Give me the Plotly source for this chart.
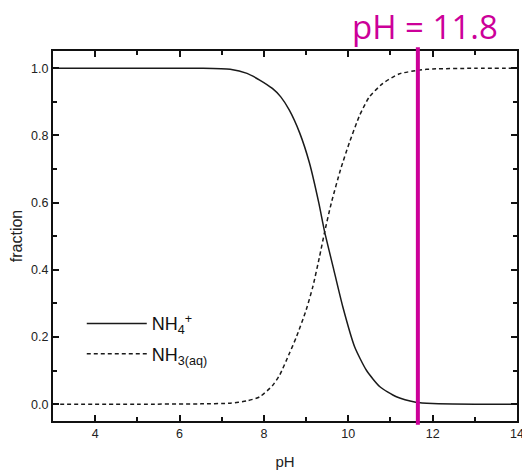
import plotly.graph_objects as go

ph_nh4 = [3, 5, 6.5, 7.2, 7.6, 7.9, 8.2, 8.4, 8.6, 8.85, 9.08, 9.3, 9.44, 9.64, 9.87, 10.15, 10.43, 10.75, 11.14, 11.6, 12, 13, 14]
frac_nh4 = [1.0, 1.0, 1.0, 0.997, 0.985, 0.965, 0.94, 0.915, 0.876, 0.807, 0.718, 0.6, 0.513, 0.409, 0.29, 0.171, 0.101, 0.052, 0.022, 0.006, 0.002, 0.0, 0.0]

ph_nh3 = [3, 5, 6.5, 7.2, 7.6, 7.9, 8.2, 8.37, 8.6, 8.77, 9.0, 9.16, 9.32, 9.44, 9.6, 9.82, 10.03, 10.27, 10.5, 10.82, 11.2, 11.7, 12, 13, 14]
frac_nh3 = [0.0, 0.0, 0.001, 0.003, 0.01, 0.022, 0.055, 0.086, 0.15, 0.2, 0.28, 0.35, 0.44, 0.513, 0.6, 0.7, 0.78, 0.86, 0.915, 0.955, 0.983, 0.995, 0.998, 1.0, 1.0]

marker_ph = 11.65
marker_label = "pH = 11.8"
x_ticks = [4, 6, 8, 10, 12, 14]
y_ticks = [0.0, 0.2, 0.4, 0.6, 0.8, 1.0]

fig = go.Figure()
fig.add_trace(go.Scatter(x=ph_nh4, y=frac_nh4, mode="lines", name="NH<sub>4</sub><sup>+</sup>",
                         legendgroup="a",
                         line=dict(color="#1a1a1a", width=1.5, shape="spline", smoothing=0.6)))
fig.add_trace(go.Scatter(x=ph_nh3, y=frac_nh3, mode="lines", name="NH<sub>3(aq)</sub>",
                         legendgroup="b",
                         line=dict(color="#1a1a1a", width=1.5, dash="4px,3px", shape="spline", smoothing=0.6)))

fig.add_shape(type="line", x0=marker_ph, x1=marker_ph, xref="x", yref="paper", y0=-0.01, y1=1.01,
              line=dict(color="#CC0099", width=4))
fig.add_annotation(x=11.83, xref="x", y=1, yref="paper", yanchor="bottom", yshift=0,
                   text=marker_label, showarrow=False,
                   font=dict(family="Open Sans", size=33, color="#CC0099"))

axis_common = dict(showline=True, linecolor="#111", linewidth=2, mirror="allticks",
                   ticks="inside", ticklen=6, tickwidth=2, tickcolor="#111",
                   showgrid=False, zeroline=False, automargin=False,
                   tickfont=dict(family="Liberation Sans", size=12.5, color="#222"))
fig.update_xaxes(range=[3, 14], tickvals=x_ticks, ticktext=[str(v) for v in x_ticks],
                 minor=dict(dtick=1, tick0=3, ticks="inside", ticklen=4, tickwidth=1.5, tickcolor="#111"),
                 title=dict(text="pH", font=dict(family="Liberation Sans", size=15, color="#222"), standoff=16),
                 **axis_common)
fig.update_yaxes(range=[-0.05, 1.0515], tickvals=y_ticks, ticktext=[f"{v:.1f}" for v in y_ticks],
                 minor=dict(dtick=0.1, tick0=0.1, ticks="inside", ticklen=4, tickwidth=1.5, tickcolor="#111"),
                 title=dict(text="fraction", font=dict(family="Liberation Sans", size=16, color="#222"), standoff=14),
                 **axis_common)

fig.update_layout(width=522, height=467, margin=dict(l=45, r=13, t=43, b=54, autoexpand=False),
                  plot_bgcolor="white", paper_bgcolor="white",
                  showlegend=True,
                  legend=dict(x=0.062, y=0.313, xanchor="left", yanchor="top", bgcolor="rgba(0,0,0,0)",
                              font=dict(family="Liberation Sans", size=18, color="#111"),
                              itemwidth=60, tracegroupgap=4))
fig.write_html("out.html")
